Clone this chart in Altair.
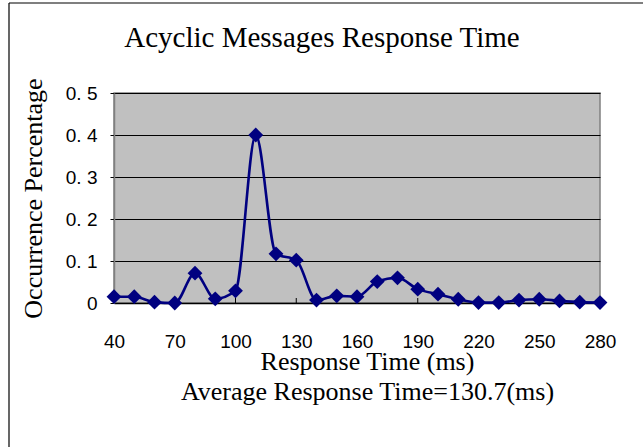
import altair as alt
import pandas as pd

# Response-time histogram (percentage of acyclic messages per 10 ms bin)
response_ms = [40, 50, 60, 70, 80, 90, 100, 110, 120, 130, 140, 150, 160,
               170, 180, 190, 200, 210, 220, 230, 240, 250, 260, 270, 280]
occurrence = [0.015, 0.015, 0.002, 0.0, 0.071, 0.010, 0.029, 0.400, 0.117,
              0.102, 0.007, 0.017, 0.015, 0.051, 0.060, 0.033, 0.021, 0.009,
              0.001, 0.001, 0.007, 0.009, 0.005, 0.002, 0.001]
x_ticks = [40, 70, 100, 130, 160, 190, 220, 250, 280]
y_ticks = [0, 0.1, 0.2, 0.3, 0.4, 0.5]

df = pd.DataFrame({"ms": response_ms, "pct": occurrence})
tick_df = pd.DataFrame({"ms": x_ticks})
one_row = pd.DataFrame({"k": [0]})

W, H = 486, 210
SERIF = "Liberation Serif"
SANS = "Liberation Sans Narrow, Arial Narrow, Liberation Sans"
NAVY = "#000080"

x_scale = alt.Scale(domain=[40, 280], nice=False, zero=False)
y_scale = alt.Scale(domain=[0, 0.5], nice=False)

x_axis = alt.Axis(
    values=x_ticks,
    title=["Response Time (ms)", "Average Response Time=130.7(ms)"],
    grid=False, ticks=False, tickSize=0,
    domainColor="black", domainWidth=1.5,
    labelFont=SANS, labelFontSize=19, labelColor="black", labelPadding=29,
    labelFlush=False,
    titleFont=SERIF, titleFontSize=26, titleFontWeight="normal",
    titleColor="black", titleX=253, titleY=66, titleBaseline="alphabetic",
    titleLineHeight=30,
)
y_axis = alt.Axis(
    values=y_ticks,
    labelExpr="datum.value == 0 ? '0' : replace(format(datum.value, '.1f'), '.', '. ')",
    title="Occurrence Percentage",
    grid=True, gridColor="black", gridWidth=1,
    domainColor="#808080", domainWidth=1.5,
    ticks=True, tickSize=4, tickColor="black",
    labelFont=SANS, labelFontSize=19, labelColor="black", labelPadding=13,
    labelFlush=False,
    titleFont=SERIF, titleFontSize=26, titleFontWeight="normal",
    titleColor="black", titleX=-73, titleY=105, titleBaseline="alphabetic",
)

base = alt.Chart(df)

line = base.mark_line(color=NAVY, strokeWidth=2.6, interpolate="monotone").encode(
    x=alt.X("ms:Q", scale=x_scale, axis=x_axis),
    y=alt.Y("pct:Q", scale=y_scale, axis=y_axis),
)

points = base.mark_point(shape="diamond", filled=True, size=220,
                         color=NAVY, opacity=1).encode(
    x=alt.X("ms:Q", scale=x_scale),
    y=alt.Y("pct:Q", scale=y_scale),
)

# inward tick marks on the category axis
x_tick_marks = alt.Chart(tick_df).mark_rule(color="black", strokeWidth=1).encode(
    x=alt.X("ms:Q", scale=x_scale),
    y=alt.value(H),
    y2=alt.value(H - 5),
)

# outer frame (top and left edges)
frame_left = alt.Chart(one_row).mark_rule(color="black", strokeWidth=1.2).encode(
    x=alt.value(-105), y=alt.value(-90), y2=alt.value(360)
)
frame_top = alt.Chart(one_row).mark_rule(color="black", strokeWidth=1.2).encode(
    x=alt.value(-105), x2=alt.value(540), y=alt.value(-90)
)

chart = alt.layer(x_tick_marks, line, points, frame_left, frame_top).properties(
    width=W,
    height=H,
    title=alt.TitleParams(
        "Acyclic Messages Response Time",
        font=SERIF, fontSize=29, fontWeight="normal", color="black",
        anchor="middle", dx=-35, offset=-74, baseline="alphabetic",
    ),
    padding={"left": 114, "top": 93, "right": 43, "bottom": 144},
    autosize=alt.AutoSizeParams(type="none"),
    background="white",
).configure_view(
    fill="#C0C0C0", stroke="#808080", strokeWidth=1.5
)

chart.save("out.html", embed_options={"renderer": "svg", "actions": False})
